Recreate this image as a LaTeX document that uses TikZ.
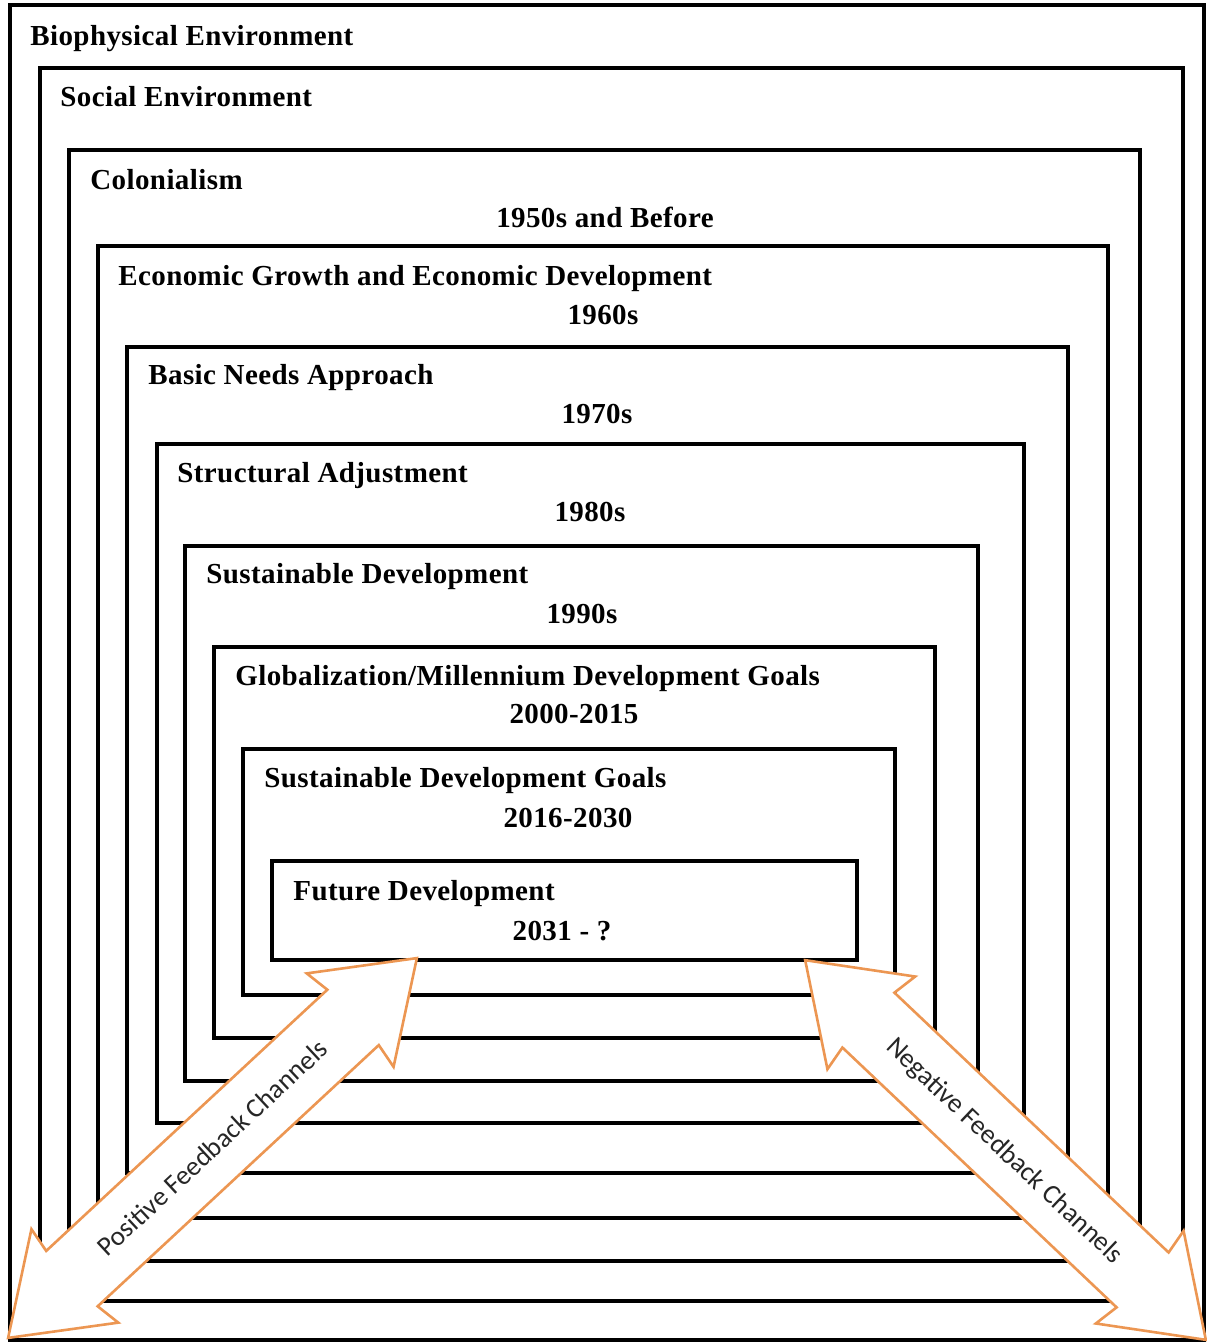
\documentclass[tikz,border=0pt]{standalone}
\usepackage{fontspec}
\setmainfont{Liberation Serif}
\newfontfamily\boxfont[LetterSpace=1.4]{Liberation Serif}
\newfontfamily\channelfont{Carlito}
\usetikzlibrary{shapes.arrows}
\definecolor{channelorange}{RGB}{236,150,82}
\tikzset{
    frame/.style={line width=1.8pt},
    boxtitle/.style={anchor=base west, inner sep=0pt,
        font=\boxfont\bfseries\fontsize{14.5}{17}\selectfont},
    boxyear/.style={anchor=base, inner sep=0pt,
        font=\boxfont\bfseries\fontsize{14.5}{17}\selectfont},
    channel/.style={double arrow, draw=channelorange, fill=white, line width=1.3pt,
        double arrow tip angle=70, double arrow head extend=13pt,
        double arrow head indent=2pt,
        inner xsep=0pt, inner ysep=13.75pt, text height=9pt, text depth=0pt,
        font=\channelfont\fontsize{13.6}{15}\selectfont, text=black!85}
}

\begin{document}
\begin{tikzpicture}[x=0.5pt,y=-0.5pt]
\useasboundingbox (0,0) rectangle (1206,1343);

% corners of the nested boxes, outermost first
\coordinate (bio nw) at (10,5);    \coordinate (bio se) at (1204,1340);
\coordinate (soc nw) at (40,68);   \coordinate (soc se) at (1183,1301);
\coordinate (col nw) at (69,150);  \coordinate (col se) at (1140,1261);
\coordinate (eco nw) at (98,246);  \coordinate (eco se) at (1108,1218);
\coordinate (bas nw) at (127,347); \coordinate (bas se) at (1068,1173);
\coordinate (str nw) at (157,444); \coordinate (str se) at (1024,1123);
\coordinate (sus nw) at (185,546); \coordinate (sus se) at (978,1081);
\coordinate (glo nw) at (214,647); \coordinate (glo se) at (935,1038);
\coordinate (sdg nw) at (243,749); \coordinate (sdg se) at (895,995);
\coordinate (fut nw) at (272,861); \coordinate (fut se) at (857,960);

\draw[frame] (bio nw) rectangle (bio se);
\draw[frame] (soc nw) rectangle (soc se);
\draw[frame] (col nw) rectangle (col se);
\draw[frame] (eco nw) rectangle (eco se);
\draw[frame] (bas nw) rectangle (bas se);
\draw[frame] (str nw) rectangle (str se);
\draw[frame] (sus nw) rectangle (sus se);
\draw[frame] (glo nw) rectangle (glo se);
\draw[frame] (sdg nw) rectangle (sdg se);
\draw[frame] (fut nw) rectangle (fut se);

% titles and periods
\node[boxtitle] (bio title) at (30,46) {Biophysical Environment};
\node[boxtitle] (soc title) at (60,107) {Social Environment};
\node[boxtitle] (col title) at (90,189) {Colonialism};
\node[boxyear]  (col year)  at (605,227) {1950s and Before};
\node[boxtitle] (eco title) at (118,285) {Economic Growth and Economic Development};
\node[boxyear]  (eco year)  at (603,324) {1960s};
\node[boxtitle] (bas title) at (148,384) {Basic Needs Approach};
\node[boxyear]  (bas year)  at (597,423) {1970s};
\node[boxtitle] (str title) at (177,482) {Structural Adjustment};
\node[boxyear]  (str year)  at (590,521) {1980s};
\node[boxtitle] (sus title) at (206,583) {Sustainable Development};
\node[boxyear]  (sus year)  at (582,623) {1990s};
\node[boxtitle] (glo title) at (235,685) {Globalization/Millennium Development Goals};
\node[boxyear]  (glo year)  at (574,723) {2000-2015};
\node[boxtitle] (sdg title) at (264,787) {Sustainable Development Goals};
\node[boxyear]  (sdg year)  at (568,827) {2016-2030};
\node[boxtitle] (fut title) at (293,900) {Future Development};
\node[boxyear]  (fut year)  at (562,940) {2031 - ?};

% feedback channels
\coordinate (pos tail) at (8,1338);  \coordinate (pos head) at (417,958);
\coordinate (neg head) at (805,960); \coordinate (neg tail) at (1206,1340);

\path (pos tail) -- (pos head)
    node[channel, midway, sloped, minimum height=279pt] (pos channel) {Positive Feedback Channels};
\path (neg head) -- (neg tail)
    node[channel, midway, sloped, minimum height=276pt] (neg channel) {Negative Feedback Channels};
\end{tikzpicture}
\end{document}
